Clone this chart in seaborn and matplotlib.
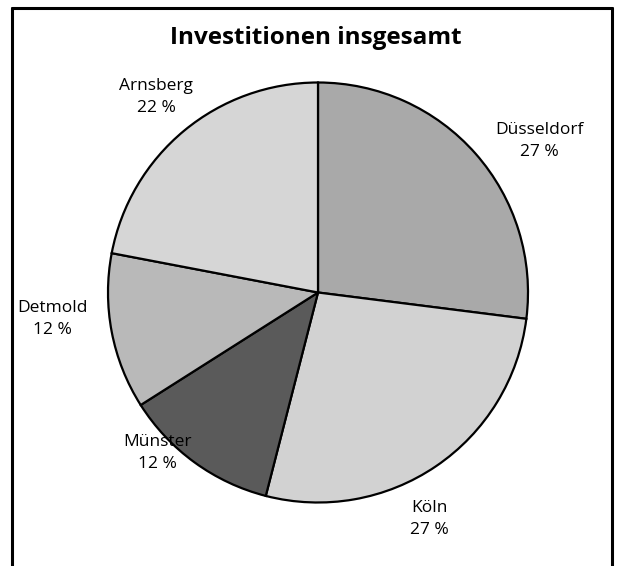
import numpy as np
import matplotlib.pyplot as plt
import seaborn as sns
from matplotlib.lines import Line2D

# Data
regions = ['Düsseldorf', 'Köln', 'Münster', 'Detmold', 'Arnsberg']
shares = [27, 27, 12, 12, 22]
fills = ['#a9a9a9', '#d2d2d2', '#5a5a5a', '#b9b9b9', '#d6d6d6']

# label placement (radius factor, angle shift in degrees)
label_r = [1.28, 1.20, 1.08, 1.27, 1.21]
label_shift = [-7, -8, -9, -5, 0]

sns.set_theme(style="white")
plt.rcParams['font.family'] = ['Open Sans', 'DejaVu Sans']
plt.rcParams['text.color'] = 'black'

fig = plt.figure(figsize=(6.19, 5.66), dpi=100)
ax = fig.add_axes([108 / 619, 63 / 566, 420 / 619, 421 / 566])

wedges, _ = ax.pie(shares, colors=fills, startangle=90, counterclock=False,
                   wedgeprops=dict(edgecolor='black', linewidth=1.6))
ax.set_xlim(-1, 1)
ax.set_ylim(-1, 1)
ax.set_aspect('equal')

for w, name, val, r, sh in zip(wedges, regions, shares, label_r, label_shift):
    mid = np.deg2rad((w.theta1 + w.theta2) / 2 + sh)
    ax.text(r * np.cos(mid), r * np.sin(mid), f'{name}\n{val} %',
            ha='center', va='center', fontsize=12.5, linespacing=1.5,
            color='black')

fig.text(316 / 619, 1 - 38 / 566, 'Investitionen insgesamt', ha='center',
         va='center', fontsize=17.5, fontweight='bold', color='black')

# open frame around the figure (no bottom edge)
xl, xr, yt = 12 / 619, 612 / 619, 1 - 8 / 566
for xs, ys in [([xl, xl], [0, yt]), ([xl, xr], [yt, yt]), ([xr, xr], [yt, 0])]:
    fig.add_artist(Line2D(xs, ys, color='black', linewidth=2.2,
                          transform=fig.transFigure))

plt.savefig('out.png', dpi=100)
